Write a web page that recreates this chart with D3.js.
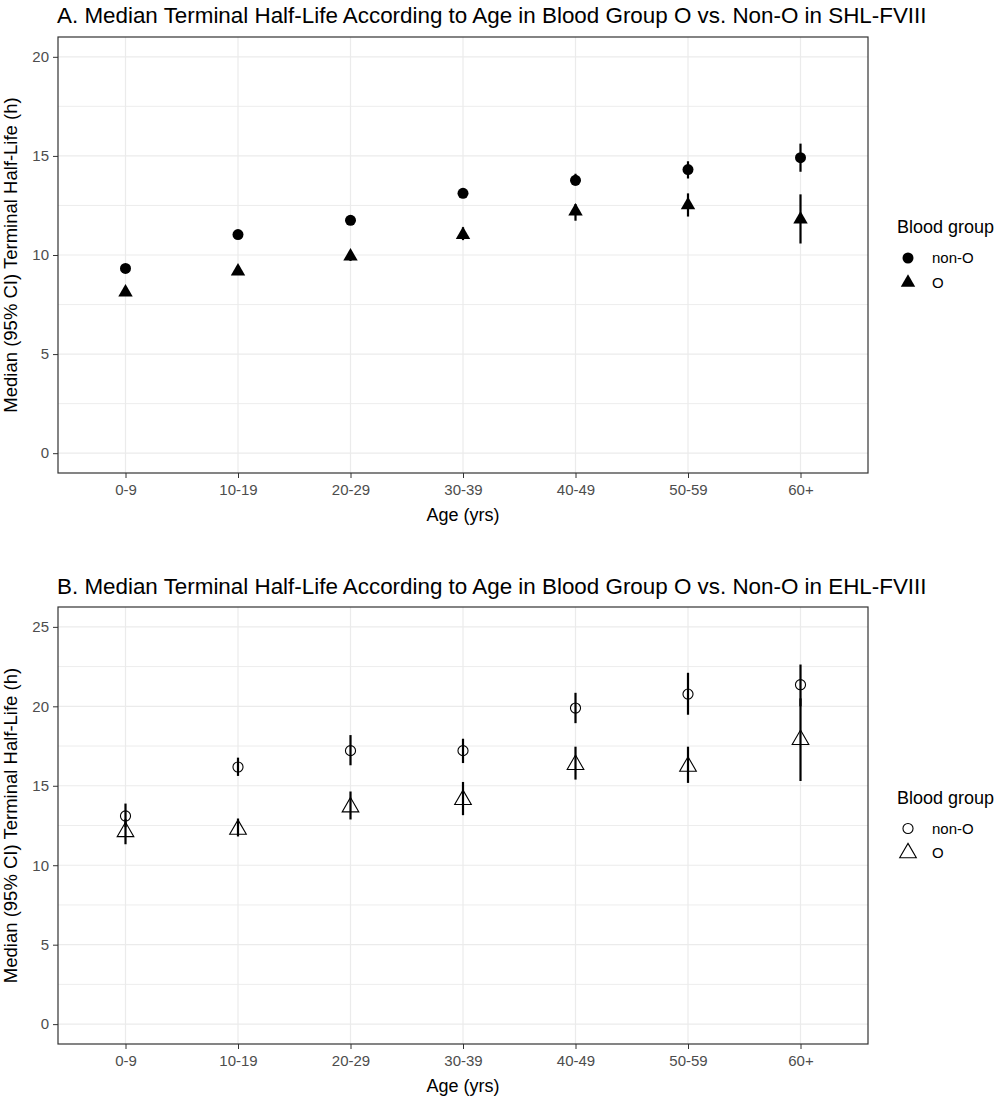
<!DOCTYPE html>
<html>
<head>
<meta charset="utf-8">
<script src="https://cdn.jsdelivr.net/npm/d3@7"></script>
<style>
  body { margin: 0; background: #fff; }
  text { font-family: "Liberation Sans", Arial, sans-serif; }
</style>
</head>
<body>
<div id="chart"></div>
<script>
// age bands on the x axis
const ageGroups = ["0-9", "10-19", "20-29", "30-39", "40-49", "50-59", "60+"];
const bloodGroups = ["non-O", "O"];

// panel A: SHL-FVIII medians and 95% CI
const shlNonO   = [9.32, 11.03, 11.75, 13.11, 13.77, 14.31, 14.91];
const shlNonOLo = [9.15, 10.85, 11.55, 12.90, 13.50, 13.86, 14.20];
const shlNonOHi = [9.50, 11.20, 11.95, 13.30, 14.10, 14.73, 15.62];
const shlO      = [8.12, 9.18, 9.93, 11.02, 12.20, 12.52, 11.80];
const shlOLo    = [7.95, 9.00, 9.70, 10.75, 11.73, 11.94, 10.58];
const shlOHi    = [8.30, 9.40, 10.20, 11.40, 12.57, 13.11, 13.06];

// panel B: EHL-FVIII medians and 95% CI
const ehlNonO   = [13.10, 16.18, 17.21, 17.21, 19.89, 20.77, 21.36];
const ehlNonOLo = [12.40, 15.62, 16.29, 16.43, 18.94, 19.47, 20.00];
const ehlNonOHi = [13.88, 16.77, 18.19, 17.96, 20.85, 22.11, 22.63];
const ehlO      = [12.10, 12.25, 13.66, 14.12, 16.33, 16.22, 17.90];
const ehlOLo    = [11.32, 11.81, 12.88, 13.15, 15.39, 15.18, 15.30];
const ehlOHi    = [12.90, 12.94, 14.64, 15.24, 17.46, 17.46, 20.50];

const shlTicks = [0, 5, 10, 15, 20];
const shlMinor = [2.5, 7.5, 12.5, 17.5];
const ehlTicks = [0, 5, 10, 15, 20, 25];
const ehlMinor = [2.5, 7.5, 12.5, 17.5, 22.5];

const width = 1002, height = 1099;
const svg = d3.select("#chart").append("svg")
    .attr("width", width)
    .attr("height", height);

function rows(mid, lo, hi, group) {
  return ageGroups.map((a, i) => ({age: a, group: group, y: mid[i], lo: lo[i], hi: hi[i]}));
}

const panels = [
  {
    title: "A. Median Terminal Half-Life According to Age in Blood Group O vs. Non-O in SHL-FVIII",
    top: 37, bottom: 473, titleY: 23,
    yDomain: [-1, 21], ticks: shlTicks, minor: shlMinor,
    data: [rows(shlNonO, shlNonOLo, shlNonOHi, "non-O"), rows(shlO, shlOLo, shlOHi, "O")],
    filled: true, circleSize: 95, triSize: 90
  },
  {
    title: "B. Median Terminal Half-Life According to Age in Blood Group O vs. Non-O in EHL-FVIII",
    top: 607, bottom: 1044, titleY: 594,
    yDomain: [-1.25, 26.25], ticks: ehlTicks, minor: ehlMinor,
    data: [rows(ehlNonO, ehlNonOLo, ehlNonOHi, "non-O"), rows(ehlO, ehlOLo, ehlOHi, "O")],
    filled: false, circleSize: 80, triSize: 120
  }
];

const left = 58, right = 868;

function symbolFor(p, group) {
  return d3.symbol()
    .type(group === "O" ? d3.symbolTriangle : d3.symbolCircle)
    .size(group === "O" ? p.triSize : p.circleSize)();
}

function styleSymbol(sel, p) {
  if (p.filled) {
    sel.attr("fill", "#000").attr("stroke", "none");
  } else {
    sel.attr("fill", "none").attr("stroke", "#000").attr("stroke-width", 1.1);
  }
}

panels.forEach(p => {
  const x = d3.scalePoint().domain(ageGroups).range([left, right]).padding(0.6);
  const y = d3.scaleLinear().domain(p.yDomain).range([p.bottom, p.top]);
  const g = svg.append("g");

  // grid
  g.append("g").selectAll("line").data(p.minor).join("line")
      .attr("x1", left).attr("x2", right)
      .attr("y1", d => y(d)).attr("y2", d => y(d))
      .attr("stroke", "#EBEBEB").attr("stroke-width", 0.9);
  g.append("g").selectAll("line").data(p.ticks).join("line")
      .attr("x1", left).attr("x2", right)
      .attr("y1", d => y(d)).attr("y2", d => y(d))
      .attr("stroke", "#EBEBEB").attr("stroke-width", 1.2);
  g.append("g").selectAll("line").data(ageGroups).join("line")
      .attr("x1", d => x(d)).attr("x2", d => x(d))
      .attr("y1", p.top).attr("y2", p.bottom)
      .attr("stroke", "#EBEBEB").attr("stroke-width", 1.2);

  // axes
  g.append("g")
      .attr("transform", `translate(0,${p.bottom})`)
      .call(d3.axisBottom(x).tickSize(5).tickPadding(6))
      .call(a => a.select(".domain").remove())
      .call(a => a.selectAll(".tick line").attr("stroke", "#333"))
      .call(a => a.selectAll(".tick text").attr("fill", "#4D4D4D")
          .attr("font-size", 15).attr("font-family", "Liberation Sans, Arial, sans-serif"));
  g.append("g")
      .attr("transform", `translate(${left},0)`)
      .call(d3.axisLeft(y).tickValues(p.ticks).tickSize(5).tickPadding(4))
      .call(a => a.select(".domain").remove())
      .call(a => a.selectAll(".tick line").attr("stroke", "#333"))
      .call(a => a.selectAll(".tick text").attr("fill", "#4D4D4D")
          .attr("font-size", 15).attr("font-family", "Liberation Sans, Arial, sans-serif"));

  // points with error bars
  p.data.forEach(series => {
    const s = g.append("g");
    s.selectAll("line").data(series).join("line")
        .attr("x1", d => x(d.age)).attr("x2", d => x(d.age))
        .attr("y1", d => y(d.lo)).attr("y2", d => y(d.hi))
        .attr("stroke", "#000").attr("stroke-width", 2.2);
    s.selectAll("path").data(series).join("path")
        .attr("transform", d => `translate(${x(d.age)},${y(d.y)})`)
        .attr("d", d => symbolFor(p, d.group))
        .call(sel => styleSymbol(sel, p));
  });

  // panel border
  g.append("rect")
      .attr("x", left).attr("y", p.top)
      .attr("width", right - left).attr("height", p.bottom - p.top)
      .attr("fill", "none").attr("stroke", "#333").attr("stroke-width", 1.2);

  // titles
  const t = g.append("text")
      .attr("x", left - 1).attr("y", p.titleY)
      .attr("font-size", 20).attr("fill", "#000")
      .text(p.title);
  const natural = t.node().getComputedTextLength();
  t.attr("font-size", 20 * 870 / natural);

  g.append("text")
      .attr("x", (left + right) / 2).attr("y", p.bottom + 48)
      .attr("text-anchor", "middle").attr("font-size", 18)
      .text("Age (yrs)");
  g.append("text")
      .attr("transform", `translate(17,${(p.top + p.bottom) / 2}) rotate(-90)`)
      .attr("text-anchor", "middle").attr("font-size", 18.5)
      .text("Median (95% CI) Terminal Half-Life (h)");

  // legend
  const mid = (p.top + p.bottom) / 2;
  const lg = g.append("g").attr("transform", `translate(897,${mid - 28})`);
  lg.append("text").attr("x", 0).attr("y", 6).attr("font-size", 18).text("Blood group");
  bloodGroups.forEach((b, i) => {
    const row = lg.append("g").attr("transform", `translate(11,${31 + i * 24.5})`);
    row.append("path").attr("d", symbolFor(p, b)).call(sel => styleSymbol(sel, p));
    row.append("text").attr("x", 24).attr("y", 5).attr("font-size", 15).text(b);
  });
});
</script>
</body>
</html>
